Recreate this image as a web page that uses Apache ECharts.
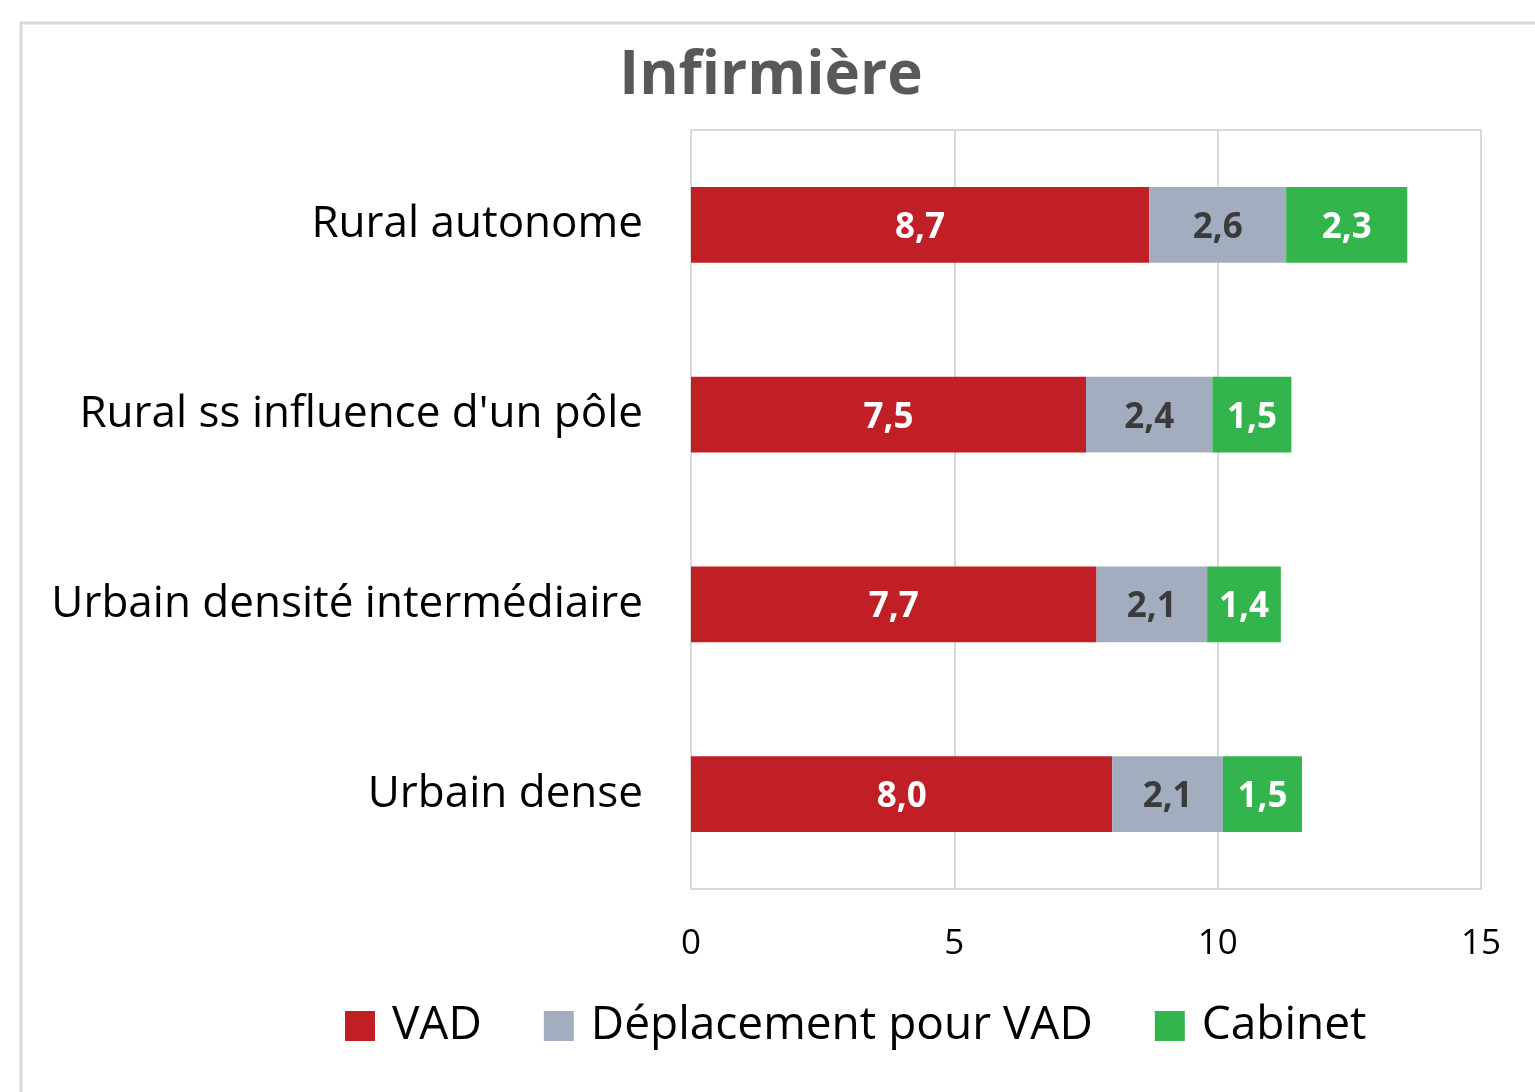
<!DOCTYPE html>
<html>
<head>
<meta charset="utf-8">
<script src="https://cdn.jsdelivr.net/npm/echarts@6/dist/echarts.min.js"></script>
<style>
  html, body { margin: 0; padding: 0; background: #fff; }
  #chart { width: 1535px; height: 1092px; }
</style>
</head>
<body>
<div id="chart"></div>
<script>
// categories (top to bottom)
var categories = ["Rural autonome", "Rural ss influence d'un pôle", "Urbain densité intermédiaire", "Urbain dense"];
// series values
var vad = [8.7, 7.5, 7.7, 8.0];
var deplacement = [2.6, 2.4, 2.1, 2.1];
var cabinet = [2.3, 1.5, 1.4, 1.5];
var xTicks = [0, 5, 10, 15];

var fontFam = "'Open Sans', 'Noto Sans', sans-serif";

function fmt(p) {
  return p.value.toFixed(1).replace(".", ",");
}

function makeSeries(name, data, color, labelColor) {
  return {
    name: name,
    type: "bar",
    stack: "total",
    barWidth: "40%",
    data: data,
    itemStyle: { color: color },
    label: {
      show: true,
      position: "inside",
      offset: [0, 3],
      formatter: fmt,
      color: labelColor,
      fontWeight: "bold",
      fontSize: 35,
      fontFamily: fontFam
    }
  };
}

var chart = echarts.init(document.getElementById("chart"));
chart.setOption({
  animation: false,
  backgroundColor: "#fff",
  graphic: [{
    type: "rect",
    shape: { x: 21, y: 23, width: 1600, height: 1200 },
    style: { fill: null, stroke: "#d9d9d9", lineWidth: 3 },
    silent: true
  }],
  title: {
    text: "Infirmière",
    left: 766,
    textAlign: "center",
    top: 42,
    textStyle: { fontFamily: fontFam, fontSize: 60, fontWeight: "bold", color: "#595959" }
  },
  legend: {
    bottom: 38,
    left: 340,
    itemWidth: 30,
    itemHeight: 30,
    itemGap: 62,
    icon: "rect",
    formatter: function (n) { return " " + n; },
    textStyle: { fontFamily: fontFam, fontSize: 46, color: "#000" },
    data: ["VAD", "Déplacement pour VAD", "Cabinet"]
  },
  grid: {
    left: 691,
    right: 54,
    top: 130,
    bottom: 203,
    show: true,
    borderColor: "#d9d9d9",
    borderWidth: 2
  },
  xAxis: {
    type: "value",
    min: 0,
    max: 15,
    interval: 5,
    axisLine: { show: false },
    axisTick: { show: false },
    axisLabel: {
      margin: 38,
      fontFamily: fontFam,
      fontSize: 35,
      color: "#000",
      formatter: function (v) { return xTicks.indexOf(v) >= 0 ? String(v) : ""; }
    },
    splitLine: { show: true, lineStyle: { color: "#d9d9d9", width: 2 } }
  },
  yAxis: {
    type: "category",
    inverse: true,
    data: categories,
    axisLine: { show: false },
    axisTick: { show: false },
    axisLabel: { margin: 48, fontFamily: fontFam, fontSize: 44, color: "#000" }
  },
  series: [
    makeSeries("VAD", vad, "#c11f26", "#fff"),
    makeSeries("Déplacement pour VAD", deplacement, "#a2aebf", "#3a3a3a"),
    makeSeries("Cabinet", cabinet, "#34b44d", "#fff")
  ]
});
</script>
</body>
</html>
